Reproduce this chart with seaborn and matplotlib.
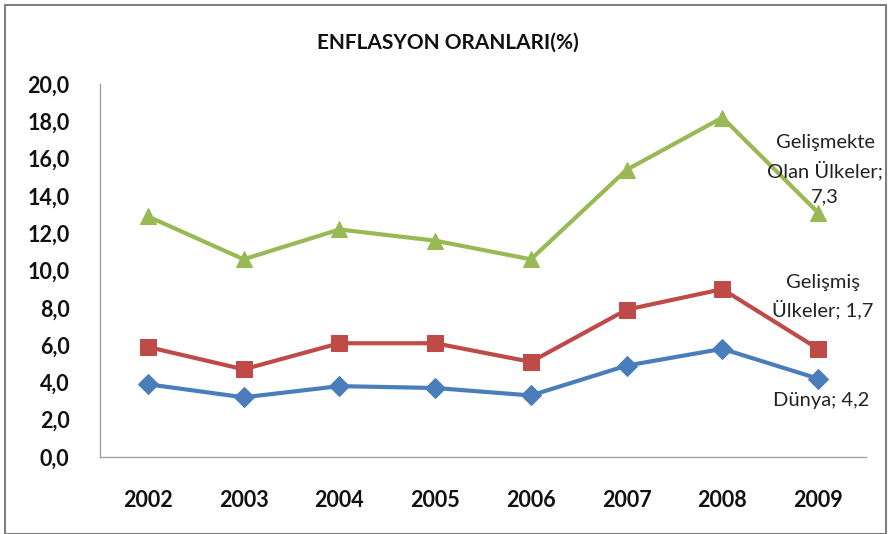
import pandas as pd
import matplotlib.pyplot as plt
import seaborn as sns
from matplotlib.patches import Rectangle

# Veriler
years = ["2002", "2003", "2004", "2005", "2006", "2007", "2008", "2009"]
dunya = [3.9, 3.2, 3.8, 3.7, 3.3, 4.9, 5.8, 4.2]
gelismis = [5.9, 4.7, 6.1, 6.1, 5.1, 7.9, 9.0, 5.8]
gelismekte = [12.9, 10.6, 12.2, 11.6, 10.6, 15.4, 18.2, 13.1]

series_names = ["Dünya", "Gelişmiş Ülkeler", "Gelişmekte Olan Ülkeler"]
end_labels = ["Dünya; 4,2", "Gelişmiş\nÜlkeler; 1,7", "Gelişmekte\nOlan Ülkeler;\n7,3"]
colors = ["#4A7EBB", "#BE4B48", "#98B954"]
markers = ["D", "s", "^"]
marker_sizes = [10, 11, 12]

sns.set_style("white")
plt.rcParams["font.family"] = ["Lato", "DejaVu Sans"]

fig = plt.figure(figsize=(8.94, 5.34), dpi=100)
ax = fig.add_axes([0.1119, 0.1442, 0.8568, 0.6985])

df = pd.DataFrame({"yil": years * 3,
                   "deger": dunya + gelismis + gelismekte,
                   "seri": [n for n in series_names for _ in years]})

for name, col, mk, ms in zip(series_names, colors, markers, marker_sizes):
    sub = df[df["seri"] == name]
    sns.lineplot(data=sub, x="yil", y="deger", ax=ax, color=col, linewidth=3,
                 marker=mk, markersize=ms, markeredgecolor=col, sort=False)

# Son noktaya etiketler
offsets = [(3, -22), (5, 52), (7, 43)]
for lab, vals, off in zip(end_labels, [dunya, gelismis, gelismekte], offsets):
    ax.annotate(lab, xy=(len(years) - 1, vals[-1]), xytext=off,
                textcoords="offset pixels", ha="center", va="center",
                fontsize=14.5, color="#222222", linespacing=1.55,
                family=["Lato", "DejaVu Sans"])

ax.set_xlim(-0.5, len(years) - 0.5)
ax.set_ylim(0, 20)
ax.set_yticks(range(0, 21, 2))
ax.set_yticklabels([f"{v},0" for v in range(0, 21, 2)])
ax.set_xlabel("")
ax.set_ylabel("")
ax.tick_params(axis="both", length=0, labelsize=15.5, labelcolor="#111111")
ax.tick_params(axis="x", pad=24)
ax.tick_params(axis="y", pad=22)
for lbl in ax.get_xticklabels() + ax.get_yticklabels():
    lbl.set_fontweight("bold")

for side in ["top", "right"]:
    ax.spines[side].set_visible(False)
for side in ["left", "bottom"]:
    ax.spines[side].set_color("#A0A0A0")
    ax.spines[side].set_linewidth(1)

fig.text(0.501, 0.921, "ENFLASYON ORANLARI(%)", ha="center", va="center",
         fontsize=15, fontweight="bold", color="#111111")

# Dış çerçeve
fig.patches.append(Rectangle((0.006, 0.0), 0.985, 0.99, transform=fig.transFigure,
                             fill=False, edgecolor="#808080", linewidth=1.5))

fig.savefig("out.png", dpi=100)
